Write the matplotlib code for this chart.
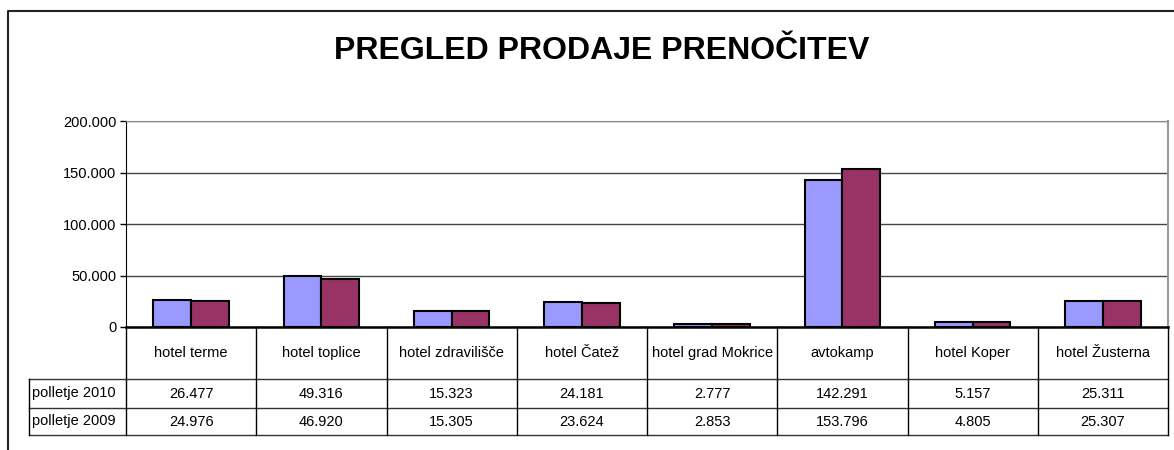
import matplotlib.pyplot as plt
from matplotlib.lines import Line2D

# data
categories = ['hotel terme', 'hotel toplice', 'hotel zdravilišče', 'hotel Čatež',
              'hotel grad Mokrice', 'avtokamp', 'hotel Koper', 'hotel Žusterna']
series_names = ['polletje 2010', 'polletje 2009']
values_2010 = [26477, 49316, 15323, 24181, 2777, 142291, 5157, 25311]
values_2009 = [24976, 46920, 15305, 23624, 2853, 153796, 4805, 25307]
y_ticks = [0, 50000, 100000, 150000, 200000]

colors = ['#9999FF', '#993366']


def fmt(v):
    # Slovenian thousands separator
    return f"{v:,}".replace(',', '.')


plt.rcParams['font.family'] = ['Liberation Sans', 'DejaVu Sans']

W, H = 1174, 450
fig = plt.figure(figsize=(W / 100, H / 100), dpi=100)


def fx(px):
    return px / W


def fy(py):
    return 1 - py / H


# plot area in pixel coords
left, right, top, zero = 126, 1168, 121, 327
ax = fig.add_axes([fx(left), fy(zero), fx(right - left), (zero - top) / H])

n = len(categories)
bw = 0.29
xs = list(range(n))
ax.bar([x - bw / 2 for x in xs], values_2010, width=bw, color=colors[0],
       edgecolor='black', linewidth=1.5, zorder=3)
ax.bar([x + bw / 2 for x in xs], values_2009, width=bw, color=colors[1],
       edgecolor='black', linewidth=1.5, zorder=3)

fs = 10.5
ax.set_xlim(-0.5, n - 0.5)
ax.set_ylim(0, 200000)
ax.set_yticks(y_ticks)
ax.set_yticklabels([fmt(v) for v in y_ticks], fontsize=fs)
ax.set_xticks([])
ax.tick_params(axis='y', direction='out', length=4, width=1, pad=3)
ax.grid(axis='y', color='#444444', linewidth=1, zorder=0)
ax.spines['left'].set_color('black')
ax.spines['bottom'].set_color('black')
ax.spines['bottom'].set_linewidth(1.8)
ax.spines['bottom'].set_zorder(4)
ax.spines['top'].set_color('#888888')
ax.spines['right'].set_color('#999999')
ax.spines['right'].set_linewidth(1.5)

# data table under the axis
row_y = [zero, 379, 408, 435]
label_left = 29
colw = (right - left) / n


def hline(x0, x1, y, color='black', lw=1.0):
    fig.add_artist(Line2D([fx(x0), fx(x1)], [fy(y), fy(y)], color=color, lw=lw))


def vline(x, y0, y1, color='black', lw=1.0):
    fig.add_artist(Line2D([fx(x), fx(x)], [fy(y0), fy(y1)], color=color, lw=lw))


for y in row_y[1:]:
    hline(label_left, right, y, color='#333333')
vline(label_left, row_y[1], row_y[3])
for i in range(n + 1):
    vline(left + i * colw, row_y[0], row_y[3])

for i, cat in enumerate(categories):
    cx = left + (i + 0.5) * colw
    fig.text(fx(cx), fy((row_y[0] + row_y[1]) / 2), cat, ha='center', va='center', fontsize=fs)
    fig.text(fx(cx), fy((row_y[1] + row_y[2]) / 2), fmt(values_2010[i]),
             ha='center', va='center', fontsize=fs)
    fig.text(fx(cx), fy((row_y[2] + row_y[3]) / 2), fmt(values_2009[i]),
             ha='center', va='center', fontsize=fs)

for r, name in enumerate(series_names):
    fig.text(fx(label_left + 3), fy((row_y[r + 1] + row_y[r + 2]) / 2), name,
             ha='left', va='center', fontsize=fs)

# title
fig.text(fx(602), fy(59), 'PREGLED PRODAJE PRENOČITEV', ha='center', va='baseline',
         fontsize=23, fontweight='bold')

# outer chart border (left and top visible)
fig.add_artist(Line2D([fx(8), fx(8), fx(W)], [fy(H), fy(11), fy(11)], color='#222222', lw=1.5))

fig.savefig('out.png', dpi=100)
